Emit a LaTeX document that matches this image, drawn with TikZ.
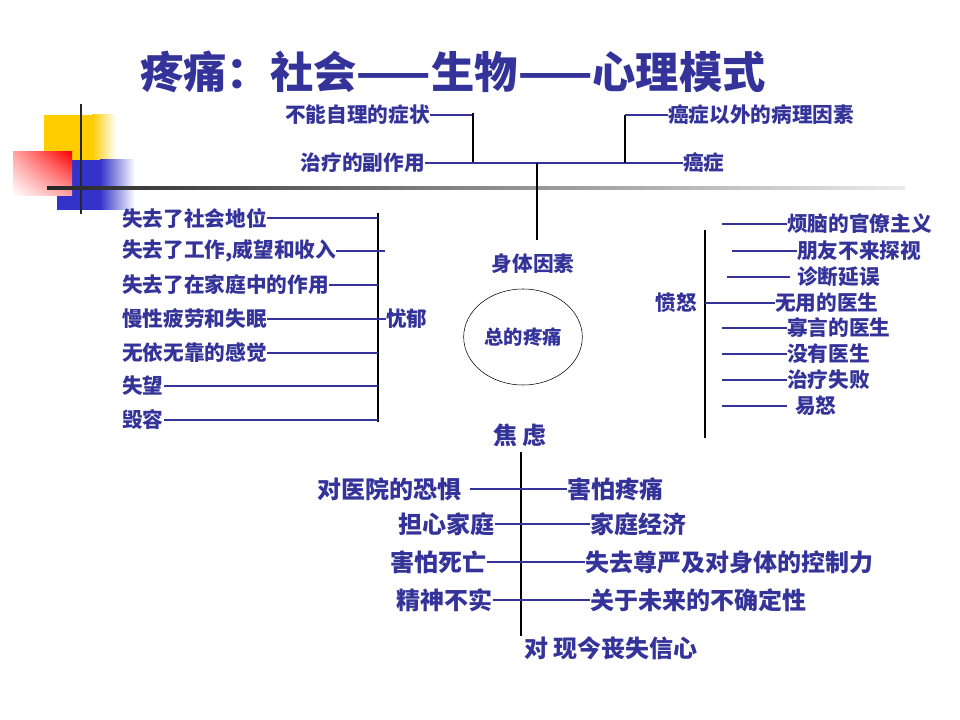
\documentclass[tikz,border=0pt]{standalone}
\usepackage{fontspec}
\newfontfamily\cjk{Noto Sans CJK SC}
\usetikzlibrary{positioning,calc,shapes.geometric,shadings}
\definecolor{navy}{RGB}{51,51,153}
\definecolor{ppyellow}{RGB}{255,204,0}
\definecolor{ppblue}{RGB}{51,51,204}
\definecolor{ppred}{RGB}{255,0,0}

\begin{document}
\begin{tikzpicture}[
    x=0.75pt, y=-0.75pt,
    lbl/.style={text=navy, inner sep=0pt, font=\cjk\bfseries\fontsize{15.5}{18}\selectfont},
    big/.style={lbl, font=\cjk\bfseries\fontsize{18}{21}\selectfont},
    title/.style={lbl, font=\cjk\bfseries\fontsize{32.5}{38}\selectfont},
    link/.style={draw=navy, line width=1pt},
    bar/.style={draw=black, line width=0.8pt}
]
    \useasboundingbox[fill=white] (0,0) rectangle (960,720);

    % template corner
    \fill[ppyellow] (44,115) rectangle (92,160);
    \shade[left color=ppyellow, right color=white] (92,115) rectangle (116,160);
    \fill[ppblue] (57,160) rectangle (100,210);
    \shade[left color=ppblue, right color=white] (100,160) rectangle (135,210);
    \shade[upper left=ppred!35!white, upper right=ppred, lower left=white, lower right=ppred!35!white] (13,152) rectangle (72,196);
    \draw[black!85, line width=2.2pt] (81,104) -- (81,214);
    \shade[left color=black!85, right color=black!8] (47,186.5) rectangle (905,189.5);

    \node[title] (title) at (453,72) {疼痛：社会——生物——心理模式};

    % physical factors
    \node[lbl, anchor=east] (selfcare) at (430,115) {不能自理的症状};
    \node[lbl, anchor=east] (side) at (425,163) {治疗的副作用};
    \node[lbl, anchor=west] (other) at (668,115) {癌症以外的病理因素};
    \node[lbl, anchor=west] (cancer) at (683,163) {癌症};
    \coordinate (tl) at (473,113);
    \coordinate (tr) at (625,115);
    \coordinate (stem) at (537,163);
    \coordinate (stemend) at (537,240);

    \draw[link] (selfcare.east) -- (selfcare.east -| tl);
    \draw[bar] (tl) -- (tl |- side.east);
    \draw[link] (side.east) -- (cancer.west);
    \draw[bar] (tr) -- (tr |- cancer.west);
    \draw[link] (tr) -- (other.west);
    \draw[bar] (stem) -- (stemend);

    \node[lbl] (body) at (533,264) {身体因素};
    \node[ellipse, draw, thin, minimum width=89pt, minimum height=72pt, lbl, text=navy,
          font=\cjk\bfseries\fontsize{14.5}{17}\selectfont] (total) at (523,337) {总的疼痛};
    \node[big] (anx) at (520,435) {焦 虑};

    % depression
    \node[lbl, anchor=west] (l1) at (122,218) {失去了社会地位};
    \node[lbl, anchor=west] (l2) at (122,251) {失去了工作,威望和收入};
    \node[lbl, anchor=west] (l3) at (122,285) {失去了在家庭中的作用};
    \node[lbl, anchor=west] (l4) at (122,319) {慢性疲劳和失眠};
    \node[lbl, anchor=west] (l5) at (122,353) {无依无靠的感觉};
    \node[lbl, anchor=west] (l6) at (122,386) {失望};
    \node[lbl, anchor=west] (l7) at (122,420) {毁容};
    \node[lbl, anchor=west] (dep) at (386,319) {忧郁};
    \coordinate (barL) at (378,213);
    \coordinate (barLend) at (378,422);

    \draw[bar] (barL) -- (barLend);
    \foreach \n in {l1,l3,l5,l6,l7}
        \draw[link] (\n.east) -- (\n.east -| barL);
    \draw[link] (l2.east) -- ($(l2.east -| barL)+(7,0)$);
    \draw[link] (l4.east) -- (dep.west);

    % anger
    \node[lbl, anchor=east] (anger) at (697,303) {愤怒};
    \node[lbl, anchor=west] (r1) at (787,224) {烦脑的官僚主义};
    \node[lbl, anchor=west] (r2) at (797,251) {朋友不来探视};
    \node[lbl, anchor=west] (r3) at (797,277) {诊断延误};
    \node[lbl, anchor=west] (r4) at (775,303) {无用的医生};
    \node[lbl, anchor=west] (r5) at (787,328) {寡言的医生};
    \node[lbl, anchor=west] (r6) at (787,354) {没有医生};
    \node[lbl, anchor=west] (r7) at (787,380) {治疗失败};
    \node[lbl, anchor=west] (r8) at (795,406) {易怒};
    \coordinate (barR) at (705,230);
    \coordinate (barRend) at (705,438);

    \draw[bar] (barR) -- (barRend);
    \draw[link] (barR |- anger.east) -- (r4.west);
    \foreach \n/\g/\l in {r1/0/65, r2/0/65, r3/7/63, r5/0/65, r6/0/65, r7/0/65, r8/8/65}
        \draw[link] ($(\n.west)+(-\g,0)$) -- ++(-\l,0);

    % anxiety
    \node[big, anchor=east] (hosp) at (462,489) {对医院的恐惧};
    \node[big, anchor=west] (fearpain) at (567,489) {害怕疼痛};
    \node[big, anchor=east] (family) at (495,524) {担心家庭};
    \node[big, anchor=west] (econ) at (590,524) {家庭经济};
    \node[big, anchor=east] (death) at (487,562) {害怕死亡};
    \node[big, anchor=west] (dignity) at (585,562) {失去尊严及对身体的控制力};
    \node[big, anchor=east] (spirit) at (493,600) {精神不实};
    \node[big, anchor=west] (future) at (590,600) {关于未来的不确定性};
    \node[big] (trust) at (611,648) {对 现今丧失信心};
    \coordinate (axtop) at (521,452);
    \coordinate (axbot) at (521,636);

    \draw[bar] (axtop) -- (axbot);
    \draw[link] ($(hosp.east)+(8,0)$) -- (fearpain.west);
    \draw[link] (family.east) -- (econ.west);
    \draw[link] (death.east) -- (dignity.west);
    \draw[link] (spirit.east) -- (future.west);
\end{tikzpicture}
\end{document}
